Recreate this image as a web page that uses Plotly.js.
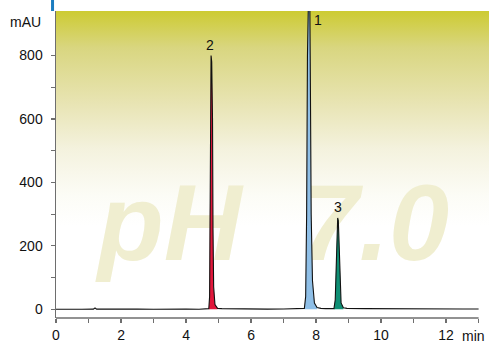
<!DOCTYPE html>
<html>
<head>
<meta charset="utf-8">
<script src="https://cdn.plot.ly/plotly-3.0.1.min.js"></script>
<style>html,body{margin:0;padding:0;background:#fff;}#chart{width:489px;height:346px;}</style>
</head>
<body>
<div id="chart"></div>
<script>
// ---- Data ----
const baseA_t = [0, 0.4, 0.8, 1.15, 1.2, 1.25, 1.6, 2.0, 2.4, 2.45, 2.5, 3.0, 3.5, 4.0, 4.4, 4.66];
const baseA_v = [0, 1, 0, 0.5, 4, 0.5, 1, 0, 1, 3, 1, 0, 1, 0.5, 0, 1];
const peak2_t = [4.70, 4.725, 4.735, 4.745, 4.77, 4.79, 4.815, 4.83, 4.85, 4.89, 4.97];
const peak2_v = [2, 40, 300, 650, 800, 780, 600, 250, 70, 15, 3];
const baseB_t = [5.1, 5.5, 6.0, 6.5, 7.0, 7.3, 7.58];
const baseB_v = [2, 1, 1, 0.5, 1, 1, 2];
const peak1_t = [7.64, 7.68, 7.71, 7.735, 7.765, 7.795, 7.82, 7.85, 7.89, 7.95, 8.03];
const peak1_v = [3, 40, 300, 800, 1150, 1150, 800, 300, 90, 20, 6];
const baseC_t = [8.15, 8.3, 8.47];
const baseC_v = [3, 2, 1.5];
const peak3_t = [8.55, 8.59, 8.62, 8.64, 8.665, 8.685, 8.71, 8.73, 8.77, 8.84];
const peak3_v = [2, 30, 150, 250, 288, 280, 200, 80, 20, 5];
const baseD_t = [8.95, 9.5, 10, 10.5, 11, 11.5, 12, 12.5, 13.0];
const baseD_v = [3, 2, 1.5, 1, 2, 1, 1.5, 1, 1];

const peakLabels = ['1', '2', '3'];
const peakLabelTime = [8.06, 4.74, 8.66];
const peakLabelValue = [912, 833, 323];

const xTickVals = [0,1,2,3,4,5,6,7,8,9,10,11,12,13];
const xTickText = ['0','','2','','4','','6','','8','','10','','12',''];
const yTickVals = [0,100,200,300,400,500,600,700,800];
const yTickText = ['0','','200','','400','','600','','800'];

const watermarkText = ['pH', '7.0'];

// ---- Build traces ----
const allT = [].concat(baseA_t, peak2_t, baseB_t, peak1_t, baseC_t, peak3_t, baseD_t);
const allV = [].concat(baseA_v, peak2_v, baseB_v, peak1_v, baseC_v, peak3_v, baseD_v);

const axisGrey = '#6e6e6e';
const font = 'Liberation Sans, Arial, sans-serif';

const traces = [
  { // watermark, drawn first so peaks cover it
    x: [3.5, 9.78], y: [240, 240], mode: 'text', text: watermarkText,
    textposition: 'middle center', hoverinfo: 'skip', showlegend: false,
    textfont: {family: font, size: 108, color: '#f0eed0', weight: 'bold', style: 'italic'},
    cliponaxis: false
  },
  {x: peak2_t, y: peak2_v, mode: 'lines', fill: 'tozeroy', fillcolor: '#e1173b', line: {width: 0}, showlegend: false},
  {x: peak1_t, y: peak1_v, mode: 'lines', fill: 'tozeroy', fillcolor: '#8fbfe7', line: {width: 0}, showlegend: false},
  {x: peak3_t, y: peak3_v, mode: 'lines', fill: 'tozeroy', fillcolor: '#0f8f74', line: {width: 0}, showlegend: false},
  {x: allT, y: allV, mode: 'lines', line: {color: '#111', width: 1.1}, showlegend: false}
];

const gradSvg = '<svg xmlns="http://www.w3.org/2000/svg" width="100" height="100" preserveAspectRatio="none">' +
  '<defs><linearGradient id="g" x1="0" y1="0" x2="0" y2="1">' +
  '<stop offset="0" stop-color="#cdcb32"/>' +
  '<stop offset="0.12" stop-color="#d9d680"/>' +
  '<stop offset="0.3" stop-color="#e8e4b3"/>' +
  '<stop offset="0.45" stop-color="#f4f2de"/>' +
  '<stop offset="0.6" stop-color="#fcfcf6"/>' +
  '<stop offset="0.7" stop-color="#ffffff"/>' +
  '</linearGradient></defs><rect width="100" height="100" fill="url(#g)"/></svg>';

const annotations = peakLabels.map((t, i) => ({
  x: peakLabelTime[i], y: peakLabelValue[i], text: t, showarrow: false,
  xanchor: 'center', yanchor: 'middle', font: {family: font, size: 14, color: '#111'}
}));
annotations.push({xref: 'paper', yref: 'paper', x: -0.03, y: 0.964, text: 'mAU', showarrow: false,
  xanchor: 'right', yanchor: 'middle', font: {family: font, size: 14, color: '#111'}});
annotations.push({xref: 'x', yref: 'paper', x: 12.43, y: -0.0586, text: 'min', showarrow: false,
  xanchor: 'left', yanchor: 'middle', font: {family: font, size: 14, color: '#111'}});

const layout = {
  width: 489, height: 346,
  margin: {l: 56, r: 0, t: 11, b: 28, pad: 0},
  paper_bgcolor: '#ffffff', plot_bgcolor: 'rgba(0,0,0,0)',
  font: {family: font, size: 14, color: '#111'},
  xaxis: {
    range: [0, 13.32], showgrid: false, zeroline: false, showline: false,
    tickmode: 'array', tickvals: xTickVals, ticktext: xTickText,
    ticks: 'outside', ticklen: 4, tickwidth: 1.2, tickcolor: axisGrey,
    tickfont: {family: font, size: 14, color: '#111'}
  },
  yaxis: {
    range: [-27.4, 940.4], showgrid: false, zeroline: false,
    showline: true, linecolor: axisGrey, linewidth: 1.5,
    tickmode: 'array', tickvals: yTickVals, ticktext: yTickText,
    ticks: 'outside', ticklen: 4, tickwidth: 1.2, tickcolor: axisGrey,
    ticklabelstandoff: 5,
    tickfont: {family: font, size: 14, color: '#111'}
  },
  images: [{
    source: 'data:image/svg+xml;charset=utf-8,' + encodeURIComponent(gradSvg),
    xref: 'paper', yref: 'paper', x: 0, y: 1, sizex: 1, sizey: 1,
    sizing: 'stretch', xanchor: 'left', yanchor: 'top', layer: 'below'
  }],
  shapes: [
    {type: 'line', xref: 'x', yref: 'paper', x0: 0, x1: 13, y0: 0, y1: 0,
     line: {color: axisGrey, width: 1.5}},
    {type: 'line', xref: 'paper', yref: 'paper', x0: -0.008, x1: -0.008, y0: 1.0, y1: 1.04,
     line: {color: '#1b7cc0', width: 3}}
  ],
  annotations: annotations,
  showlegend: false
};

Plotly.newPlot('chart', traces, layout, {displayModeBar: false, staticPlot: true});
</script>
</body>
</html>
